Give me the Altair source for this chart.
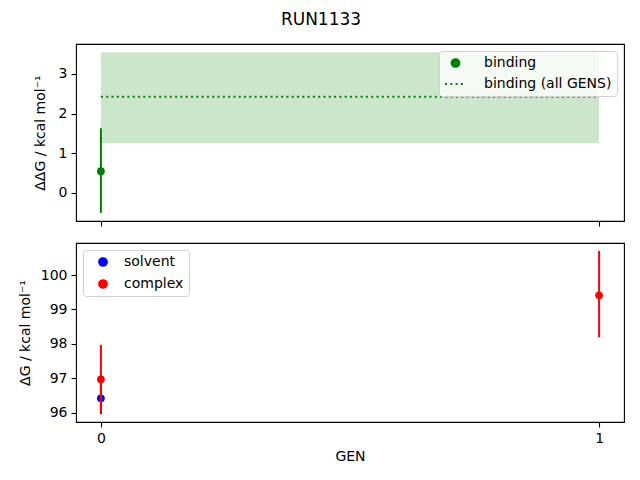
import altair as alt
import pandas as pd

# ---- data ----
binding_gen = [0]
binding_val = [0.55]
binding_lo = [-0.50]
binding_hi = [1.63]

allgens_x0 = [0]
allgens_x1 = [1]
allgens_mean = [2.42]
allgens_lo = [1.25]
allgens_hi = [3.54]

solvent_gen = [0]
solvent_val = [96.42]
solvent_lo = [95.96]
solvent_hi = [96.88]

complex_gen = [0, 1]
complex_val = [96.97, 99.41]
complex_lo = [95.98, 98.19]
complex_hi = [97.97, 100.70]

gen_ticks = [0, 1]

FONT = "DejaVu Sans"
GREEN = "#008000"

bind_df = pd.DataFrame({"gen": binding_gen, "val": binding_val, "lo": binding_lo,
                        "hi": binding_hi, "s": ["binding"] * len(binding_gen)})
all_df = pd.DataFrame({"x0": allgens_x0, "x1": allgens_x1, "mean": allgens_mean,
                       "lo": allgens_lo, "hi": allgens_hi,
                       "s": ["binding (all GENS)"] * len(allgens_x0)})
solv_df = pd.DataFrame({"gen": solvent_gen, "val": solvent_val, "lo": solvent_lo,
                        "hi": solvent_hi, "s": ["solvent"] * len(solvent_gen)})
comp_df = pd.DataFrame({"gen": complex_gen, "val": complex_val, "lo": complex_lo,
                        "hi": complex_hi, "s": ["complex"] * len(complex_gen)})

W = 548
xdom = [-0.05, 1.05]
top_ydom = [-0.705, 3.75]
bot_ydom = [95.73, 100.93]
PT = 60

top_dom = ["binding", "binding (all GENS)"]
top_leg = alt.Legend(title=None, orient="top-right", offset=7, padding=5, clipHeight=14,
                     rowPadding=7, symbolOffset=0, labelOffset=17)
top_color = alt.Color("s:N", scale=alt.Scale(domain=top_dom, range=[GREEN, GREEN]),
                      legend=top_leg)
top_x_axis = alt.Axis(values=gen_ticks, labels=False, title=None, tickSize=5)
top_y_axis = alt.Axis(values=[0, 1, 2, 3], format="d",
                      title="ΔΔG / kcal mol⁻¹", titlePadding=6,
                      minExtent=23, maxExtent=23)

band = alt.Chart(all_df).mark_rect(color=GREEN, opacity=0.2).encode(
    x=alt.X("x0:Q", scale=alt.Scale(domain=xdom, nice=False, zero=False), axis=top_x_axis),
    x2="x1:Q",
    y=alt.Y("lo:Q", scale=alt.Scale(domain=top_ydom, nice=False, zero=False), axis=top_y_axis),
    y2="hi:Q",
)
mean_line = alt.Chart(all_df).mark_rule(strokeWidth=2).encode(
    x="x0:Q", x2="x1:Q", y="mean:Q",
    color=top_color,
    strokeDash=alt.StrokeDash("s:N", scale=alt.Scale(domain=top_dom, range=[[1, 0], [2, 3.3]]),
                              legend=top_leg),
)
bind_err = alt.Chart(bind_df).mark_rule(strokeWidth=2, color=GREEN).encode(
    x="gen:Q", y="lo:Q", y2="hi:Q",
)
bind_pt = alt.Chart(bind_df).mark_point(filled=True, opacity=1, strokeWidth=0).encode(
    x="gen:Q", y="val:Q",
    color=top_color,
    shape=alt.Shape("s:N", scale=alt.Scale(domain=top_dom, range=["circle", "stroke"]),
                    legend=top_leg),
    size=alt.Size("s:N", scale=alt.Scale(domain=top_dom, range=[PT, 441]),
                  legend=top_leg),
)
top = alt.layer(band, mean_line, bind_err, bind_pt).properties(width=W, height=177)

bot_dom = ["solvent", "complex"]
bot_color = alt.Color("s:N", scale=alt.Scale(domain=bot_dom, range=["#0000ff", "#ff0000"]),
                      legend=alt.Legend(title=None, orient="top-left", offset=6.5, symbolSize=PT,
                                        padding=5, clipHeight=14, rowPadding=8,
                                        symbolOffset=8, labelOffset=14))
bot_x = alt.X("gen:Q", scale=alt.Scale(domain=xdom, nice=False, zero=False),
              axis=alt.Axis(values=gen_ticks, format="d", title="GEN", tickSize=5,
                            titlePadding=4))
bot_y = alt.Y("val:Q", scale=alt.Scale(domain=bot_ydom, nice=False, zero=False),
              axis=alt.Axis(values=[96, 97, 98, 99, 100], format="d",
                            title="ΔG / kcal mol⁻¹", titlePadding=6,
                            minExtent=38, maxExtent=38))


def errlayers(df):
    err = alt.Chart(df).mark_rule(strokeWidth=2).encode(
        x=bot_x,
        y=alt.Y("lo:Q", scale=alt.Scale(domain=bot_ydom, nice=False, zero=False)),
        y2="hi:Q", color=bot_color)
    pt = alt.Chart(df).mark_point(filled=True, opacity=1, strokeWidth=0, size=PT,
                                  shape="circle").encode(
        x=bot_x, y=bot_y, color=bot_color)
    return [err, pt]


bottom = alt.layer(*errlayers(solv_df), *errlayers(comp_df)).properties(width=W, height=179)

chart = alt.vconcat(top, bottom, spacing=14).resolve_scale(
    color="independent", shape="independent", size="independent", strokeDash="independent"
).resolve_legend(color="independent").properties(
    title=alt.TitleParams("RUN1133", anchor="middle", fontSize=17, font=FONT,
                          fontWeight="normal", color="black", offset=14),
    padding={"left": 9, "top": 3, "right": 5, "bottom": 5},
    background="white",
).configure_view(stroke="black", strokeWidth=1.1).configure_axis(
    grid=False, domain=False, labelFont=FONT, titleFont=FONT, labelFontSize=14,
    titleFontSize=14, titleFontWeight="normal", labelColor="black", titleColor="black",
    tickColor="black", tickWidth=1.1, labelPadding=4,
).configure_legend(
    labelFont=FONT, labelFontSize=14, labelColor="black", strokeColor="#d0d0d0",
    fillColor="rgba(255,255,255,0.8)", cornerRadius=3, symbolStrokeWidth=2,
)

chart.save("out.html", embed_options={"renderer": "svg", "actions": False})
